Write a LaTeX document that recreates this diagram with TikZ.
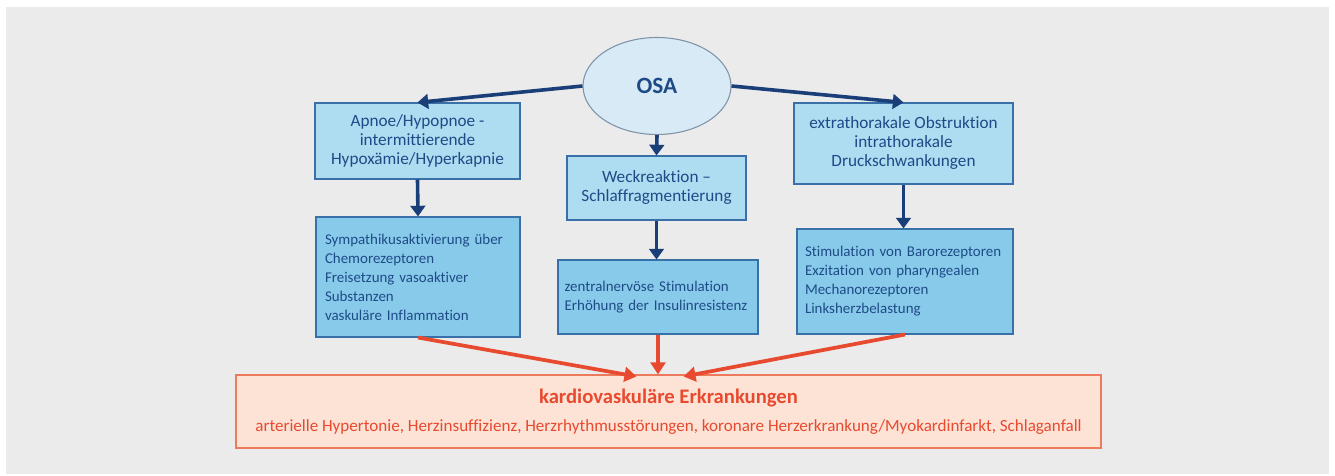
\documentclass[tikz,border=0pt]{standalone}
\usepackage{fontspec}
\setmainfont{Carlito}[Ligatures=NoCommon]
\usetikzlibrary{arrows.meta,shapes.geometric,calc}
\hyphenpenalty=10000
\exhyphenpenalty=10000
\definecolor{bgc}{HTML}{EBEBEB}
\definecolor{ellfill}{HTML}{D9EAF7}
\definecolor{elldraw}{HTML}{7F93A8}
\definecolor{boxa}{HTML}{AEDCF1}
\definecolor{boxb}{HTML}{88CAEA}
\definecolor{boxline}{HTML}{3A70A8}
\definecolor{txtblue}{HTML}{1E4B87}
\definecolor{arrblue}{HTML}{1A3E78}
\definecolor{redc}{HTML}{E84A2F}
\definecolor{peach}{HTML}{FDE2D6}
\definecolor{peachline}{HTML}{EE7A5E}
\tikzset{
  boxone/.style={draw=boxline, fill=boxa, line width=0.8pt, font=\fontsize{12.9}{14.25}\selectfont, text=txtblue, align=center, inner sep=0pt},
  boxtwo/.style={draw=boxline, fill=boxb, line width=0.8pt, font=\fontsize{11.2}{14.25}\selectfont, text=txtblue, align=left, inner ysep=0pt},
  bluearrow/.style={draw=arrblue, line width=2.7pt, -{Triangle[length=8pt,width=11pt]}},
  redarrow/.style={draw=redc, line width=2.8pt, -{Triangle[length=9pt,width=11pt]}},
}
\begin{document}
\begin{tikzpicture}[x=0.75pt,y=-0.75pt]
\useasboundingbox (0,0) rectangle (1335,475);
\fill[bgc] (6,7) rectangle (1329,474);

\node[ellipse, draw=elldraw, fill=ellfill, line width=0.8pt, minimum width=111pt, minimum height=72.75pt, inner sep=0pt, text=txtblue, font=\fontsize{17.5}{20}\selectfont\bfseries] (osa) at (657,86) {OSA};

\node[boxone, minimum width=153.75pt, minimum height=57pt] (a1) at (417.5,141)
  {Apnoe/Hypopnoe -\\intermittierende\\Hypoxämie/Hyperkapnie};
\node[boxone, minimum width=134.25pt, minimum height=48pt] (w1) at (656.5,188)
  {Weckreaktion –\\Schlaffragmentierung};
\node[boxone, minimum width=164.25pt, minimum height=60.75pt] (e1) at (903.5,143.5)
  {extrathorakale Obstruktion\\intrathorakale\\Druckschwankungen};

\node[boxtwo, text width=139.5pt, inner xsep=6.75pt, minimum height=90pt] (a2) at (418,277)
  {Sympathikusaktivierung über\\Chemorezeptoren\\Freisetzung vasoaktiver\\Substanzen\\vaskuläre Inflammation};
\node[boxtwo, text width=140pt, inner xsep=5pt, minimum height=55.5pt] (w2) at (658,297)
  {zentralnervöse Stimulation\\Erhöhung der Insulinresistenz};
\node[boxtwo, text width=150pt, inner xsep=6pt, minimum height=78.75pt] (e2) at (905,281.5)
  {Stimulation von Barorezeptoren\\Exzitation von pharyngealen\\Mechanorezeptoren\\Linksherzbelastung};

\node[draw=peachline, fill=peach, line width=0.8pt, minimum width=648.75pt, minimum height=54.75pt, inner sep=0pt] (k) at (668.5,411.5) {};
\node[text=redc, font=\fontsize{15.5}{18}\selectfont\bfseries, inner sep=0pt] (kt) at (668.5,398) {kardiovaskuläre Erkrankungen};
\node[text=redc, font=\fontsize{12.8}{14}\selectfont, inner sep=0pt] (ks) at (668.5,427) {arterielle Hypertonie, Herzinsuffizienz, Herzrhythmusstörungen, koronare Herzerkrankung/Myokardinfarkt, Schlaganfall};

\coordinate (kl) at ($(k.north)+(-32,2)$);
\coordinate (kr) at ($(k.north)+(15,2)$);

\draw[bluearrow] (osa.west) -- (a1.north);
\draw[bluearrow] (osa.east) -- (e1.north);
\draw[bluearrow] (osa.south) -- (w1.north);
\draw[bluearrow] (a1.south) -- (a2.north);
\draw[bluearrow] (w1.south) -- (w1.south |- w2.north);
\draw[bluearrow] (e1.south) -- (e1.south |- e2.north);

\draw[redarrow] (a2.south) -- (kl);
\draw[redarrow] (w2.south) -- (w2.south |- k.north);
\draw[redarrow] (e2.south) -- (kr);
\end{tikzpicture}
\end{document}
